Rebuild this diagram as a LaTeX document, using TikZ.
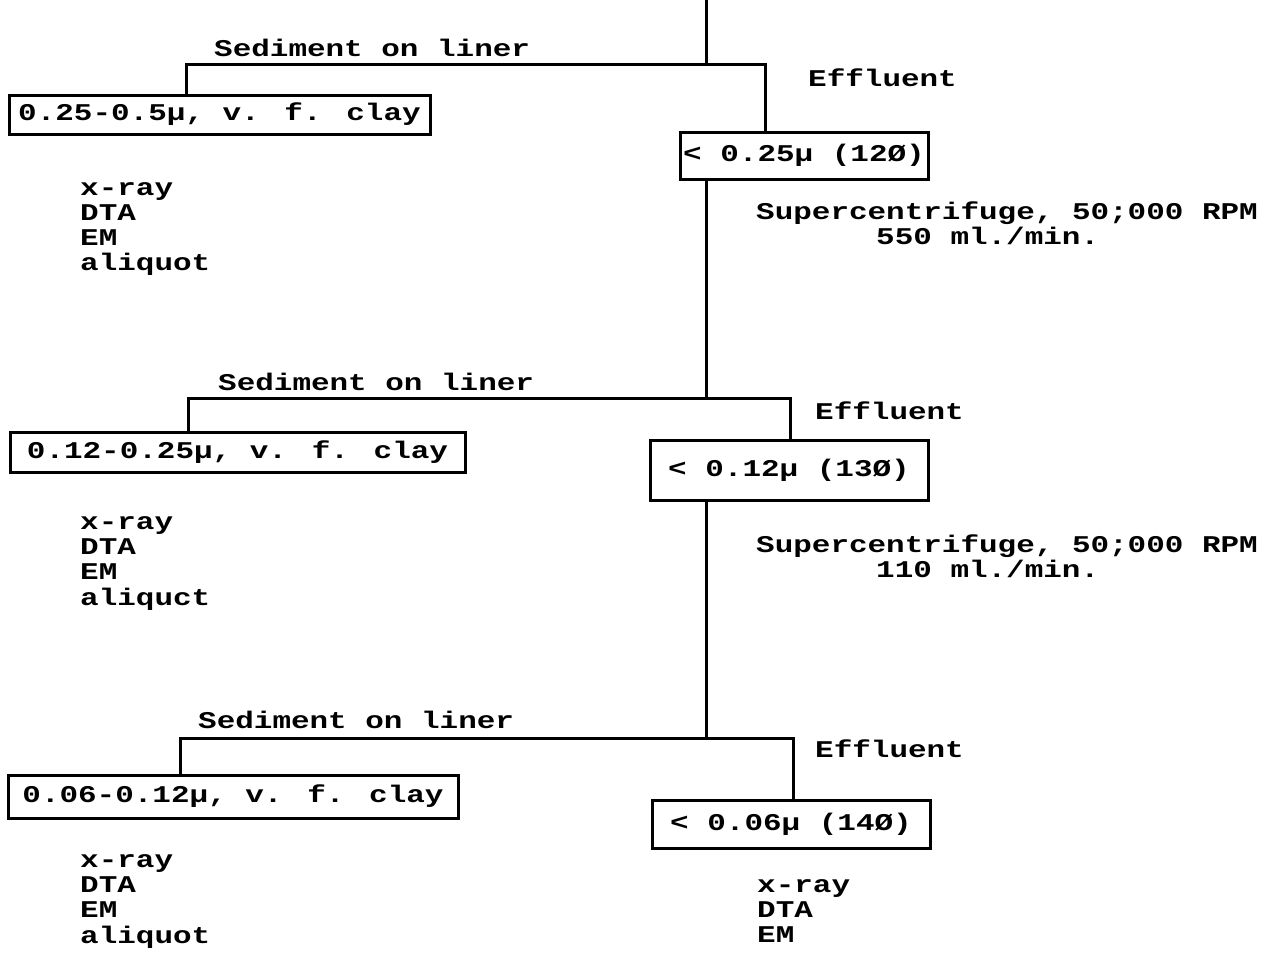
\documentclass[tikz,border=0pt]{standalone}
\usepackage{fontspec}
\newfontfamily\tw[FakeStretch=1.29]{Liberation Mono}
\tikzset{
  tt/.style={font=\tw\bfseries\fontsize{24}{24}\selectfont},
  lbl/.style={tt, anchor=base west, inner sep=0pt},
  sbox/.style={tt, draw, line width=3pt, inner sep=0pt},
  conn/.style={line width=3pt, line join=miter}
}
\begin{document}
\begin{tikzpicture}[x=1pt,y=-1pt]
\useasboundingbox[fill=white] (0,0) rectangle (1265,978);

% ---------- section 1 ----------
\node[sbox, minimum width=421pt, minimum height=39pt] (L1) at (219.5,114.5) {0.25-0.5μ, v. f. clay};
\node[sbox, minimum width=248pt, minimum height=47pt] (R1) at (804,155.5) {< 0.25μ (12Ø)};
\node[lbl] (s1) at (214,56) {Sediment on liner};
\node[lbl] (e1) at (808,86) {Effluent};
\node[lbl] (sc1) at (756,219) {Supercentrifuge, 50;000 RPM};
\node[lbl] (f1) at (876,244) {550 ml./min.};
\node[lbl] (x1) at (80,195) {x-ray};
\node[lbl] (d1) at (80,220) {DTA};
\node[lbl] (m1) at (80,245) {EM};
\node[lbl] (q1) at (80,270) {aliquot};

% ---------- section 2 ----------
\node[sbox, minimum width=455pt, minimum height=40pt] (L2) at (237.5,452) {0.12-0.25μ, v. f. clay};
\node[sbox, minimum width=278pt, minimum height=60pt] (R2) at (789,470) {< 0.12μ (13Ø)};
\node[lbl] (s2) at (218,390) {Sediment on liner};
\node[lbl] (e2) at (815,419) {Effluent};
\node[lbl] (sc2) at (756,552) {Supercentrifuge, 50;000 RPM};
\node[lbl] (f2) at (876,577) {110 ml./min.};
\node[lbl] (x2) at (80,529) {x-ray};
\node[lbl] (d2) at (80,554) {DTA};
\node[lbl] (m2) at (80,579) {EM};
\node[lbl] (q2) at (80,605) {aliquct};

% ---------- section 3 ----------
\node[sbox, minimum width=450pt, minimum height=43pt] (L3) at (233,796.5) {0.06-0.12μ, v. f. clay};
\node[sbox, minimum width=278pt, minimum height=48pt] (R3) at (791,824) {< 0.06μ (14Ø)};
\node[lbl] (s3) at (198,728) {Sediment on liner};
\node[lbl] (e3) at (815,757) {Effluent};
\node[lbl] (x3) at (80,867) {x-ray};
\node[lbl] (d3) at (80,892) {DTA};
\node[lbl] (m3) at (80,917) {EM};
\node[lbl] (q3) at (80,943) {aliquot};
\node[lbl] (x4) at (757,892) {x-ray};
\node[lbl] (d4) at (757,917) {DTA};
\node[lbl] (m4) at (757,942) {EM};

% ---------- connectors ----------
\coordinate (top) at (706,0);
\coordinate (j1) at (706,64);
\coordinate (a1) at (186,64);
\coordinate (b1) at (765,64);
\coordinate (j2) at (706,398);
\coordinate (a2) at (188,398);
\coordinate (b2) at (790,398);
\coordinate (j3) at (706,738);
\coordinate (a3) at (180,738);
\coordinate (b3) at (793,738);

\draw[conn] (top) -- (j1);
\draw[conn] (L1.north -| a1) -- (a1) -- (b1) -- (R1.north -| b1);
\draw[conn] (R1.south -| top) -- (j2);
\draw[conn] (L2.north -| a2) -- (a2) -- (b2) -- (R2.north -| b2);
\draw[conn] (R2.south -| top) -- (j3);
\draw[conn] (L3.north -| a3) -- (a3) -- (b3) -- (R3.north -| b3);
\end{tikzpicture}
\end{document}
